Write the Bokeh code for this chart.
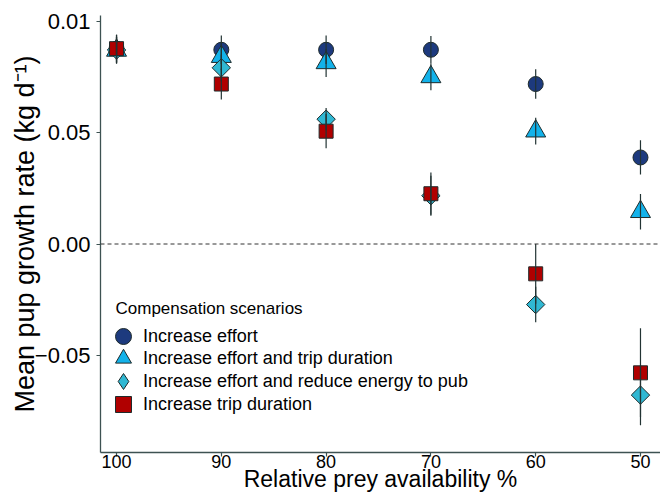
import math
from bokeh.plotting import figure
from bokeh.models import (Range1d, FixedTicker, Legend, LegendItem, Span,
                          ColumnDataSource, Label)
from bokeh.embed import file_html
from bokeh.resources import INLINE

# Data
availability = [100, 90, 80, 70, 60, 50]
effort = [0.0878, 0.0873, 0.0873, 0.0873, 0.0719, 0.0389]
effort_err = [0.0062, 0.0064, 0.0064, 0.0062, 0.0066, 0.0077]
effort_trip = [0.0870, 0.0842, 0.0814, 0.0751, 0.0507, 0.0145]
effort_trip_err = [0.0060, 0.0060, 0.0063, 0.0060, 0.0060, 0.0080]
effort_energy = [0.0872, 0.0792, 0.0561, 0.0217, -0.0272, -0.0679]
effort_energy_err = [0.0060, 0.0060, 0.0050, 0.0090, 0.0080, 0.0135]
trip = [0.0878, 0.0719, 0.0507, 0.0226, -0.0134, -0.0579]
trip_err = [0.0062, 0.0069, 0.0077, 0.0095, 0.0134, 0.0200]

legend_title = "Compensation scenarios"
series_names = ["Increase effort", "Increase effort and trip duration",
                "Increase effort and reduce energy to pub", "Increase trip duration"]
y_ticks = [-0.05, 0.0, 0.05, 0.10]
y_tick_labels = ["\u22120.05", "0.00", "0.05", "0.01"]
x_ticks = [100, 90, 80, 70, 60, 50]

FONT = "Liberation Sans"
AXIS_COL = "#3d5252"
EDGE = "#1e2b2b"

p = figure(width=660, height=494, output_backend="svg", toolbar_location=None,
           x_range=Range1d(101.53, 48.09), y_range=Range1d(-0.0937, 0.1027),
           min_border_left=100, min_border_top=15, min_border_right=0, min_border_bottom=0)
p.outline_line_color = None
p.xgrid.visible = False
p.ygrid.visible = False

for ax in (p.xaxis[0], p.yaxis[0]):
    ax.axis_line_color = AXIS_COL
    ax.axis_line_width = 1.3
    ax.major_tick_line_color = AXIS_COL
    ax.major_tick_line_width = 1.2
    ax.major_tick_out = 4
    ax.major_tick_in = 0
    ax.minor_tick_line_color = None
    ax.major_label_text_font = FONT
    ax.major_label_text_color = "black"
    ax.axis_label_text_font = FONT
    ax.axis_label_text_font_style = "normal"
    ax.axis_label_text_color = "black"

p.xaxis.ticker = FixedTicker(ticks=x_ticks)
p.xaxis.axis_label = "Relative prey availability %"
p.xaxis.major_label_text_font_size = "18px"
p.xaxis.axis_label_text_font_size = "23px"
p.xaxis.major_label_standoff = -2
p.xaxis.axis_label_standoff = -5
p.yaxis.ticker = FixedTicker(ticks=y_ticks)
p.yaxis.major_label_overrides = {t: l for t, l in zip(y_ticks, y_tick_labels)}
p.yaxis.axis_label = "Mean pup growth rate (kg d\u207b\u00b9)"
p.yaxis.major_label_text_font_size = "22px"
p.yaxis.axis_label_text_font_size = "27px"
p.yaxis.major_label_standoff = 6
p.yaxis.axis_label_standoff = -8

zero = Span(location=0, dimension="width", line_color="#333333", line_width=1, line_dash="4 3")
p.add_layout(zero)

specs = [
    (effort, effort_err, "circle", "#1d3a7e", 15, 0),
    (effort_trip, effort_trip_err, "triangle", "#13b2ea", 20, 0),
    (effort_energy, effort_energy_err, "square", "#30b8d3", 13, math.pi / 4),
    (trip, trip_err, "square", "#b00000", 14, 0),
]

sources = []
for vals, errs, marker, color, size, ang in specs:
    sources.append(ColumnDataSource(dict(x=availability, y=vals,
                                         lo=[v - e for v, e in zip(vals, errs)],
                                         hi=[v + e for v, e in zip(vals, errs)])))

# legend key for the diamond series: a true diamond marker, drawn tiny underneath the rotated squares
diamond_key = p.scatter("x", "y", source=sources[2], marker="diamond", size=2,
                        fill_color="#30b8d3", line_color=EDGE, line_width=1)

renderers = []
for src, (vals, errs, marker, color, size, ang) in zip(sources, specs):
    r = p.scatter("x", "y", source=src, marker=marker, size=size, angle=ang,
                  fill_color=color, line_color=EDGE, line_width=1)
    renderers.append(r)

for src in sources:
    p.segment(x0="x", y0="lo", x1="x", y1="hi", source=src, line_color="#223333", line_width=1.2)

legend_renderers = [renderers[0], renderers[1], diamond_key, renderers[3]]

# one single-entry legend per scenario so that keys can be large while rows stay close together
row_offsets = [96, 74, 51, 28]
for name, rend, yoff in zip(series_names, legend_renderers, row_offsets):
    lg = Legend(items=[LegendItem(label=name, renderers=[rend])], location=(3, yoff))
    lg.label_text_font = FONT
    lg.label_text_font_size = "18px"
    lg.label_text_color = "black"
    lg.glyph_height = 40
    lg.glyph_width = 40
    lg.label_height = 22
    lg.label_standoff = 0
    lg.padding = 0
    lg.margin = 0
    lg.spacing = 0
    lg.border_line_color = None
    lg.background_fill_alpha = 0
    p.add_layout(lg)

title_lbl = Label(x=15, y=144, x_units="screen", y_units="screen", text=legend_title,
                  text_font=FONT, text_font_size="17px", text_color="black",
                  text_baseline="middle", text_align="left")
p.add_layout(title_lbl)

open("out.html", "w").write(file_html(p, INLINE))
